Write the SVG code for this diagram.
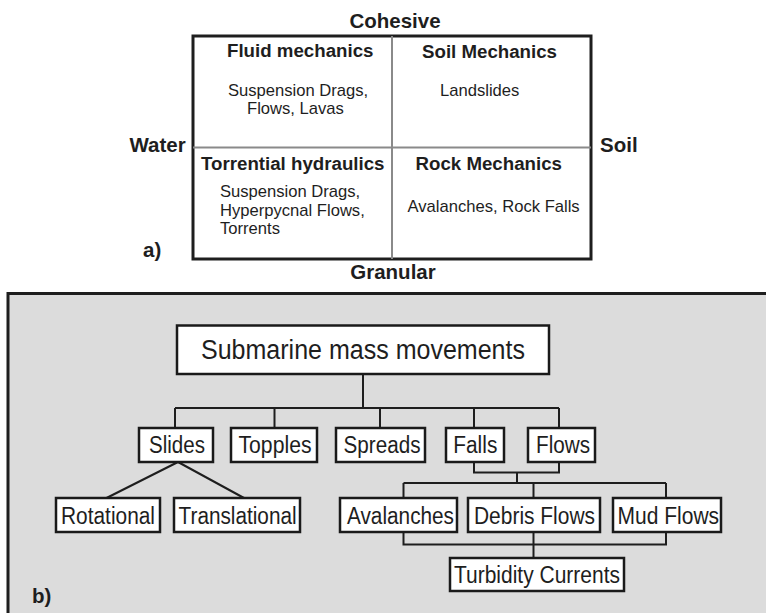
<svg xmlns="http://www.w3.org/2000/svg" width="766" height="613" viewBox="0 0 766 613">
<style>
  text { font-family: "Liberation Sans", Arial, sans-serif; fill: #1e1e1e; }
  .axis { font-size: 20.5px; font-weight: bold; }
  .head { font-size: 18.7px; font-weight: bold; }
  .body { font-size: 16.6px; }
  .lbl { font-size: 23px; text-anchor: middle; }
  .root { font-size: 27px; text-anchor: middle; }
  .box { fill: #ffffff; stroke: #1a1a1a; stroke-width: 2.5; }
  .conn { fill: none; stroke: #1e1e1e; stroke-width: 2; }
</style>
<rect x="0" y="0" width="766" height="613" fill="#ffffff"/>

<!-- Panel a -->
<g id="panel-a">
  <rect x="193" y="36" width="398" height="223" fill="#ffffff" stroke="#1e1e1e" stroke-width="3"/>
  <line x1="392" y1="36" x2="392" y2="259" stroke="#8a8a8a" stroke-width="2"/>
  <line x1="193" y1="147.5" x2="591" y2="147.5" stroke="#8a8a8a" stroke-width="2"/>
  <text class="axis" x="395" y="28" text-anchor="middle">Cohesive</text>
  <text class="axis" x="393" y="279" text-anchor="middle">Granular</text>
  <text class="axis" x="129.5" y="152">Water</text>
  <text class="axis" x="600" y="152">Soil</text>
  <text class="axis" x="143" y="257">a)</text>
  <g id="q-fluid">
    <text class="head" x="227" y="57">Fluid mechanics</text>
    <text class="body" x="228" y="96">Suspension Drags,</text>
    <text class="body" x="247" y="114">Flows, Lavas</text>
  </g>
  <g id="q-soil">
    <text class="head" x="422" y="57.5">Soil Mechanics</text>
    <text class="body" x="440" y="96">Landslides</text>
  </g>
  <g id="q-torrential">
    <text class="head" x="201" y="170">Torrential hydraulics</text>
    <text class="body" x="220" y="197">Suspension Drags,</text>
    <text class="body" x="220" y="215.5">Hyperpycnal Flows,</text>
    <text class="body" x="220" y="234">Torrents</text>
  </g>
  <g id="q-rock">
    <text class="head" x="415.5" y="170">Rock Mechanics</text>
    <text class="body" x="407.5" y="212">Avalanches, Rock Falls</text>
  </g>
</g>

<!-- Panel b -->
<rect x="8" y="293.5" width="800" height="400" fill="#dcdcdc" stroke="#1e1e1e" stroke-width="3"/>
<text class="axis" x="32" y="603">b)</text>

<g id="connectors">
  <path class="conn" d="M363,374 V408 M175,408 H559 M175,408 V428 M274.5,408 V428 M380,408 V428 M474,408 V428 M559,408 V428"/>
  <path class="conn" d="M178,462 L106.5,498 M178,462 L244,498"/>
  <path class="conn" d="M474,462 V472.5 H559 V462 M517,472.5 V483 M403.5,483 H666 M403.5,483 V498 M533.5,483 V498 M666,483 V498"/>
  <path class="conn" d="M403.5,532 V544.5 H666 V532 M533.5,532 V558"/>
</g>

<g id="n-root"><rect class="box" x="177" y="325.5" width="372" height="48.5"/><text class="root" x="363" y="358.5" textLength="324" lengthAdjust="spacingAndGlyphs">Submarine mass movements</text></g>
<g id="n-slides"><rect class="box" x="139" y="428" width="74" height="34"/><text class="lbl" x="177" y="453" textLength="56" lengthAdjust="spacingAndGlyphs">Slides</text></g>
<g id="n-topples"><rect class="box" x="231" y="428" width="86" height="34"/><text class="lbl" x="275" y="453" textLength="73" lengthAdjust="spacingAndGlyphs">Topples</text></g>
<g id="n-spreads"><rect class="box" x="336" y="428" width="89" height="34"/><text class="lbl" x="382" y="453" textLength="77" lengthAdjust="spacingAndGlyphs">Spreads</text></g>
<g id="n-falls"><rect class="box" x="446" y="428" width="58" height="34"/><text class="lbl" x="475.3" y="453" textLength="44" lengthAdjust="spacingAndGlyphs">Falls</text></g>
<g id="n-flows"><rect class="box" x="528" y="428" width="67" height="34"/><text class="lbl" x="563" y="453" textLength="54" lengthAdjust="spacingAndGlyphs">Flows</text></g>
<g id="n-rotational"><rect class="box" x="56" y="498" width="104" height="34"/><text class="lbl" x="108" y="523.5" textLength="94" lengthAdjust="spacingAndGlyphs">Rotational</text></g>
<g id="n-translational"><rect class="box" x="174" y="498" width="126" height="34"/><text class="lbl" x="237.6" y="523.5" textLength="118" lengthAdjust="spacingAndGlyphs">Translational</text></g>
<g id="n-avalanches"><rect class="box" x="340" y="498" width="117" height="34"/><text class="lbl" x="400.5" y="523.5" textLength="107" lengthAdjust="spacingAndGlyphs">Avalanches</text></g>
<g id="n-debris"><rect class="box" x="468" y="498" width="132" height="34"/><text class="lbl" x="534.5" y="523.5" textLength="121" lengthAdjust="spacingAndGlyphs">Debris Flows</text></g>
<g id="n-mud"><rect class="box" x="613" y="498" width="108" height="34"/><text class="lbl" x="668.3" y="523.5" textLength="101.5" lengthAdjust="spacingAndGlyphs">Mud Flows</text></g>
<g id="n-turbidity"><rect class="box" x="450" y="558" width="174" height="33"/><text class="lbl" x="537" y="582.5" textLength="166" lengthAdjust="spacingAndGlyphs">Turbidity Currents</text></g>
</svg>
